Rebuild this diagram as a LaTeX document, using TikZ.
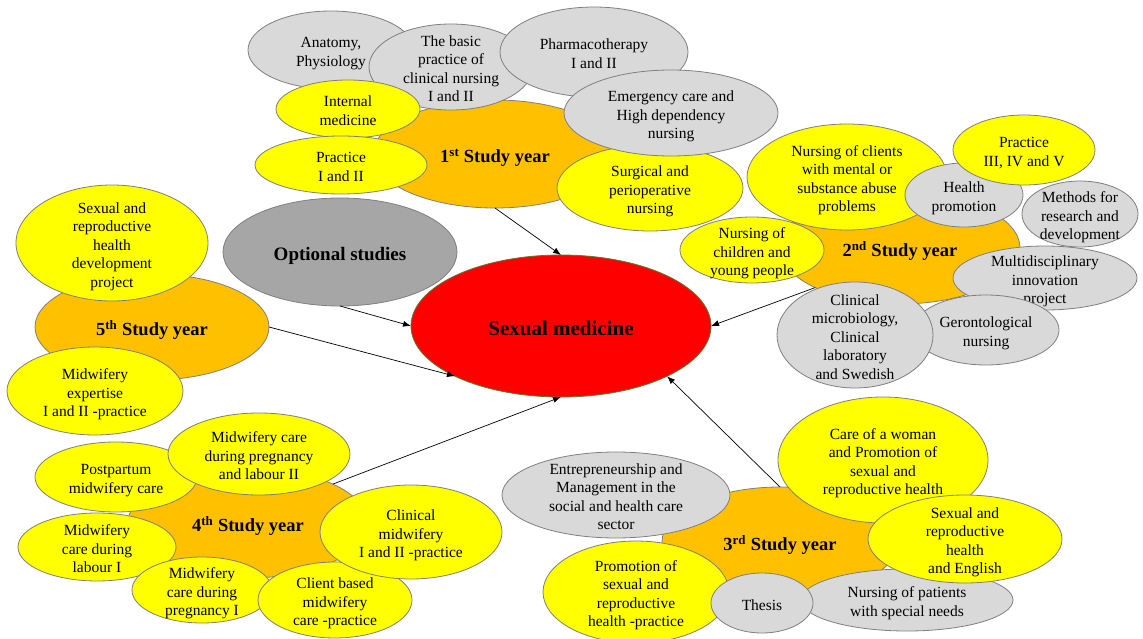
\documentclass[tikz,border=0pt]{standalone}
\usepackage{fontspec}
\setmainfont{Liberation Serif}
\usetikzlibrary{shapes.geometric,arrows.meta}
\definecolor{yel}{HTML}{FFFF00}
\definecolor{orng}{HTML}{FFC000}
\definecolor{lgray}{HTML}{D9D9D9}
\definecolor{dgray}{HTML}{A6A6A6}
\definecolor{smred}{HTML}{FF0000}
\definecolor{oline}{HTML}{7F7F7F}
\definecolor{smline}{HTML}{5A7A2E}
\newcommand{\ct}[1]{\smash{\makebox[0pt]{\raisebox{-0.45em}{\begin{tabular}{@{}c@{}}#1\end{tabular}}}}}
\newcommand{\yrfont}{\fontsize{18.5}{22}\selectfont\bfseries}
\tikzset{
  bub/.style={ellipse, draw=oline, line width=0.8pt, inner sep=0pt, outer sep=0pt,
    font=\fontsize{15.5}{18.5}\selectfont},
  sz/.style n args={2}{minimum width=2*#1, minimum height=2*#2},
  yelb/.style={bub, fill=yel},
  gryb/.style={bub, fill=lgray},
  yrb/.style={bub, fill=orng, font=\yrfont},
  arr/.style={-{Latex[length=8pt,width=6pt]}, line width=0.7pt, black},
}
\begin{document}
\begin{tikzpicture}[x=1pt,y=-1pt]
\useasboundingbox (0,0) rectangle (1143,639);
% ---------- 1st study year
\node[yrb, sz={122}{54}] (y1) at (495,154) {\ct{1\textsuperscript{st} Study year}};
\node[gryb, sz={83}{39}] (anat) at (331,50) {\ct{Anatomy,\\Physiology}};
\node[gryb, sz={82}{43}] (basic) at (451,67) {\ct{The basic\\practice of\\clinical nursing\\I and II}};
\node[gryb, sz={94}{45}] (pharm) at (594,52) {\ct{Pharmacotherapy\\I and II}};
\node[yelb, sz={72}{29}] (intm) at (348,109) {\ct{Internal\\medicine}};
\node[yelb, sz={86}{29}] (prac1) at (341,165) {\ct{Practice\\I and II}};
\node[yelb, sz={93}{43}] (surg) at (650,188) {\ct{Surgical and\\perioperative\\nursing}};
\node[gryb, sz={107}{43}] (emerg) at (671,113) {\ct{Emergency care and\\High dependency\\nursing}};
% ---------- 2nd study year
\node[yrb, sz={120}{56}] (y2) at (900,248) {\ct{2\textsuperscript{nd} Study year}};
\node[yelb, sz={72}{33}] (child) at (752,250) {\ct{Nursing of\\children and\\young people}};
\node[yelb, sz={100}{53}] (mental) at (847,177) {\ct{Nursing of clients\\with mental or\\substance abuse\\problems}};
\node[gryb, sz={92}{32}] (multi) at (1045,278) {\ct{Multidisciplinary\\innovation\\project}};
\node[gryb, sz={58}{33}] (meth) at (1080,214) {\ct{Methods for\\research and\\development}};
\node[gryb, sz={59}{32}] (hprom) at (964,195) {\ct{Health\\promotion}};
\node[yelb, sz={71}{35}] (prac3) at (1024,150) {\ct{Practice\\III, IV and V}};
\node[gryb, sz={73}{35}] (geron) at (986,330) {\ct{Gerontological\\nursing}};
\node[gryb, sz={78}{53}] (micro) at (855,335) {\ct{Clinical\\microbiology,\\Clinical\\laboratory\\and Swedish}};
% ---------- optional and centre
\node[bub, fill=dgray, sz={117}{54}, font=\fontsize{19}{22}\selectfont\bfseries] (opt) at (340,252) {\ct{Optional studies}};
\node[ellipse, draw=smline, line width=0.8pt, fill=smred, inner sep=0pt, outer sep=0pt, sz={150}{71},
  font=\fontsize{21}{24}\selectfont\bfseries] (sm) at (561,326) {\ct{Sexual medicine}};
% ---------- 5th study year
\node[yrb, sz={117}{53}] (y5) at (152,327) {\ct{5\textsuperscript{th} Study year}};
\node[yelb, sz={96}{58}] (sdev) at (112,243) {\ct{Sexual and\\reproductive\\health\\development\\project}};
\node[yelb, sz={88}{44}] (mexp) at (95,391) {\ct{Midwifery\\expertise\\I and II -practice}};
% ---------- 4th study year
\node[yrb, sz={120}{55}] (y4) at (248,523) {\ct{4\textsuperscript{th} Study year}};
\node[yelb, sz={81}{35}] (postp) at (116,477) {\ct{Postpartum\\midwifery care}};
\node[yelb, sz={91}{41}] (mid2) at (259,454) {\ct{Midwifery care\\during pregnancy\\and labour II}};
\node[yelb, sz={79}{34}] (lab1) at (97,547) {\ct{Midwifery\\care during\\labour I}};
\node[yelb, sz={70}{33}] (preg1) at (202,590) {\ct{Midwifery\\care during\\pregnancy I}};
\node[yelb, sz={77}{38}] (client) at (335,600) {\ct{Client based\\midwifery\\care -practice}};
\node[yelb, sz={91}{47}] (clinm) at (411,532) {\ct{Clinical\\midwifery\\I and II -practice}};
% ---------- 3rd study year
\node[yrb, sz={118}{55}] (y3) at (780,542) {\ct{3\textsuperscript{rd} Study year}};
\node[yelb, sz={105}{63}] (care) at (883,460) {\ct{Care of a woman\\and Promotion of\\sexual and\\reproductive health}};
\node[yelb, sz={93}{51}] (promo) at (636,592) {\ct{Promotion of\\sexual and\\reproductive\\health -practice}};
\node[gryb, sz={114}{43}] (entre) at (616,495) {\ct{Entrepreneurship and\\Management in the\\social and health care\\sector}};
\node[gryb, sz={106}{31}] (npat) at (907,600) {\ct{Nursing of patients\\with special needs}};
\node[yelb, sz={97}{44}] (sre) at (965,539) {\ct{Sexual and\\reproductive\\health\\and English}};
\node[gryb, sz={51}{30}] (thesis) at (762,603) {\ct{Thesis}};
% ---------- connectors
\draw[arr] (y1.south) -- (sm.north);
\draw[arr] (opt.south) -- (sm.west);
\draw[arr] (y5.east) -- (sm.south west);
\draw[arr] (y4.north east) -- (sm.south);
\draw[arr] (y3.north) -- (sm.south east);
\draw[arr] (y2.south west) -- (sm.east);
\end{tikzpicture}
\end{document}
